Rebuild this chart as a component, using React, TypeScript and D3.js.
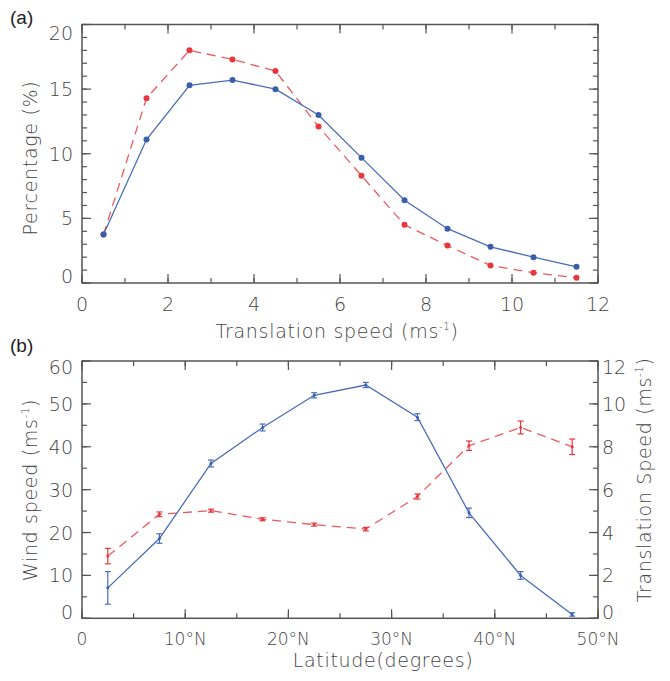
import React from "react";
import * as d3 from "d3";

// ---- Panel (a) data ----
const speedBins = [0.5, 1.5, 2.5, 3.5, 4.5, 5.5, 6.5, 7.5, 8.5, 9.5, 10.5, 11.5];
const pctBlue = [3.75, 11.1, 15.3, 15.7, 15.0, 13.0, 9.7, 6.4, 4.2, 2.8, 2.0, 1.25];
const pctRed = [3.75, 14.3, 18.0, 17.3, 16.4, 12.1, 8.3, 4.5, 2.9, 1.35, 0.8, 0.4];
const aXTicks = [0, 2, 4, 6, 8, 10, 12];
const aYTicks = [0, 5, 10, 15, 20];

// ---- Panel (b) data ----
const latBins = [2.5, 7.5, 12.5, 17.5, 22.5, 27.5, 32.5, 37.5, 42.5, 47.5];
const windSpeed = [7.1, 18.6, 36.1, 44.5, 52.0, 54.4, 46.9, 24.6, 10.0, 0.9];
const windErr = [3.8, 1.1, 0.8, 0.8, 0.6, 0.6, 0.8, 1.1, 0.9, 0.4];
const transSpeed = [2.9, 4.85, 5.02, 4.62, 4.37, 4.16, 5.68, 8.05, 8.9, 8.0];
const transErr = [0.36, 0.11, 0.07, 0.07, 0.07, 0.08, 0.12, 0.22, 0.3, 0.36];
const bXTicks = [0, 10, 20, 30, 40, 50];
const bXLabels = ["0", "10°N", "20°N", "30°N", "40°N", "50°N"];
const bYLeftTicks = [0, 10, 20, 30, 40, 50, 60];
const bYRightTicks = [0, 2, 4, 6, 8, 10, 12];

const AXIS = "#555555";
const TEXT = "#444444";
const BLUE = "#3a5eaa";
const BLUE_LINE = "#4a6db8";
const RED = "#e8363c";
const RED_LINE = "#ec5a60";
const FONT = "'DejaVu Sans', sans-serif";
const WEIGHT = 200;

const L = 82;
const R = 598;

function Ticks({ pos, orient, len, edge }: { pos: number[]; orient: string; len: number; edge: number }) {
  return (
    <g stroke={AXIS} strokeWidth={1.2}>
      {pos.map((p, i) => {
        if (orient === "bottom") return <line key={i} x1={p} x2={p} y1={edge} y2={edge - len} />;
        if (orient === "top") return <line key={i} x1={p} x2={p} y1={edge} y2={edge + len} />;
        if (orient === "left") return <line key={i} x1={edge} x2={edge + len} y1={p} y2={p} />;
        return <line key={i} x1={edge} x2={edge - len} y1={p} y2={p} />;
      })}
    </g>
  );
}

export default function App() {
  // Panel (a) scales
  const aTop = 24.5;
  const aBot = 283;
  const ax = d3.scaleLinear().domain([0, 12]).range([L, R]);
  const ay = d3.scaleLinear().domain([0, 20]).range([aBot, aTop]);
  const aLine = d3.line<number>().x((_, i) => ax(speedBins[i])).y((d) => ay(d));

  // Panel (b) scales
  const bTop = 361;
  const bBot = 618.3;
  const bx = d3.scaleLinear().domain([0, 50]).range([L, R]);
  const byL = d3.scaleLinear().domain([0, 60]).range([bBot, bTop]);
  const byR = d3.scaleLinear().domain([0, 12]).range([bBot, bTop]);
  const windLine = d3.line<number>().x((_, i) => bx(latBins[i])).y((d) => byL(d));
  const transLine = d3.line<number>().x((_, i) => bx(latBins[i])).y((d) => byR(d));

  const aXMinor = d3.range(0, 13, 1);
  const aYMinor = d3.range(0, 21, 1);
  const bXMinor = d3.range(0, 51, 5);
  const bYMinor = d3.range(0, 61, 5);

  const tickFont = 19;
  const titleFont = 19;
  const ls = 0.7;

  return (
    <svg
      width={670}
      height={681}
      style={{ position: "absolute", left: 0, top: 0, background: "#fff" }}
      fontFamily={FONT}
      fontWeight={WEIGHT}
    >
      <rect x={0} y={0} width={670} height={681} fill="#fff" />

      {/* ===== Panel (a) ===== */}
      <text x={10} y={24} fontFamily="'Liberation Sans', Arial, sans-serif" fontWeight={400} fontSize={19} fill="#222">(a)</text>
      <rect x={L} y={aTop} width={R - L} height={aBot - aTop} fill="none" stroke={AXIS} strokeWidth={1.5} />
      <Ticks pos={aXMinor.map(ax)} orient="bottom" len={5} edge={aBot} />
      <Ticks pos={aXMinor.map(ax)} orient="top" len={5} edge={aTop} />
      <Ticks pos={aXTicks.map(ax)} orient="bottom" len={9} edge={aBot} />
      <Ticks pos={aXTicks.map(ax)} orient="top" len={9} edge={aTop} />
      <Ticks pos={aYMinor.map(ay)} orient="left" len={5} edge={L} />
      <Ticks pos={aYMinor.map(ay)} orient="right" len={5} edge={R} />
      <Ticks pos={aYTicks.map(ay)} orient="left" len={9} edge={L} />
      <Ticks pos={aYTicks.map(ay)} orient="right" len={9} edge={R} />
      {aXTicks.map((t) => (
        <text key={t} x={ax(t)} y={311} textAnchor="middle" fontSize={tickFont} fill={TEXT}>{t}</text>
      ))}
      {aYTicks.map((t) => (
        <text key={t} x={73} y={Math.min(Math.max(ay(t), 33), 276) + 7} textAnchor="end" fontSize={tickFont} fill={TEXT}>{t}</text>
      ))}
      <text x={337} y={338} textAnchor="middle" fontSize={titleFont} letterSpacing={ls} fill={TEXT}>
        Translation speed (ms<tspan dy={-8} fontSize={10}>-1</tspan><tspan dy={8}>)</tspan>
      </text>
      <text transform={`translate(37,158) rotate(-90)`} textAnchor="middle" fontSize={titleFont} letterSpacing={ls} fill={TEXT}>Percentage (%)</text>

      <path d={aLine(pctRed) || ""} fill="none" stroke={RED_LINE} strokeWidth={1.3} strokeDasharray="9,6" />
      <path d={aLine(pctBlue) || ""} fill="none" stroke={BLUE_LINE} strokeWidth={1.3} />
      {pctRed.map((v, i) => (
        <circle key={"r" + i} cx={ax(speedBins[i])} cy={ay(v)} r={3} fill={RED} />
      ))}
      {pctBlue.map((v, i) => (
        <circle key={"b" + i} cx={ax(speedBins[i])} cy={ay(v)} r={3} fill={BLUE} />
      ))}

      {/* ===== Panel (b) ===== */}
      <text x={10} y={352} fontFamily="'Liberation Sans', Arial, sans-serif" fontWeight={400} fontSize={19} fill="#222">(b)</text>
      <rect x={L} y={bTop} width={R - L} height={bBot - bTop} fill="none" stroke={AXIS} strokeWidth={1.5} />
      <Ticks pos={bXMinor.map(bx)} orient="bottom" len={5} edge={bBot} />
      <Ticks pos={bXMinor.map(bx)} orient="top" len={5} edge={bTop} />
      <Ticks pos={bXTicks.map(bx)} orient="bottom" len={9} edge={bBot} />
      <Ticks pos={bXTicks.map(bx)} orient="top" len={9} edge={bTop} />
      <Ticks pos={bYMinor.map(byL)} orient="left" len={5} edge={L} />
      <Ticks pos={bYLeftTicks.map(byL)} orient="left" len={9} edge={L} />
      <Ticks pos={d3.range(0, 13, 1).map(byR)} orient="right" len={5} edge={R} />
      <Ticks pos={bYRightTicks.map(byR)} orient="right" len={9} edge={R} />
      {bXTicks.map((t, i) => (
        <text key={t} x={bx(t)} y={645} textAnchor="middle" fontSize={17} fill={TEXT}>{bXLabels[i]}</text>
      ))}
      {bYLeftTicks.map((t) => (
        <text key={t} x={73} y={Math.min(Math.max(byL(t), 367), 612) + 7} textAnchor="end" fontSize={tickFont} fill={TEXT}>{t}</text>
      ))}
      <g>
        {bYRightTicks.map((t) => (
          <text key={t} x={602} y={Math.min(Math.max(byR(t), 367), 612) + 7} textAnchor="start" fontSize={tickFont} fill={TEXT}>{t}</text>
        ))}
      </g>
      <text x={383} y={667} textAnchor="middle" fontSize={titleFont} letterSpacing={ls} fill={TEXT}>Latitude(degrees)</text>
      <text transform={`translate(37,490) rotate(-90)`} textAnchor="middle" fontSize={titleFont} letterSpacing={ls} fill={TEXT}>
        Wind speed (ms<tspan dy={-8} fontSize={10}>-1</tspan><tspan dy={8}>)</tspan>
      </text>
      <text transform={`translate(651,480) rotate(-90)`} textAnchor="middle" fontSize={titleFont} letterSpacing={ls} fill={TEXT}>
        Translation Speed (ms<tspan dy={-8} fontSize={10}>-1</tspan><tspan dy={8}>)</tspan>
      </text>

      <path d={transLine(transSpeed) || ""} fill="none" stroke={RED_LINE} strokeWidth={1.3} strokeDasharray="9,6" />
      <path d={windLine(windSpeed) || ""} fill="none" stroke={BLUE_LINE} strokeWidth={1.3} />
      {transSpeed.map((v, i) => {
        const x = bx(latBins[i]);
        const y1 = byR(v - transErr[i]);
        const y2 = byR(v + transErr[i]);
        return (
          <g key={"te" + i} stroke={RED} strokeWidth={1.2}>
            <line x1={x} x2={x} y1={y1} y2={y2} />
            <line x1={x - 3} x2={x + 3} y1={y1} y2={y1} />
            <line x1={x - 3} x2={x + 3} y1={y2} y2={y2} />
            <circle cx={x} cy={byR(v)} r={1.5} fill={RED} stroke="none" />
          </g>
        );
      })}
      {windSpeed.map((v, i) => {
        const x = bx(latBins[i]);
        const y1 = byL(v - windErr[i]);
        const y2 = byL(v + windErr[i]);
        return (
          <g key={"we" + i} stroke={BLUE_LINE} strokeWidth={1.2}>
            <line x1={x} x2={x} y1={y1} y2={y2} />
            <line x1={x - 3} x2={x + 3} y1={y1} y2={y1} />
            <line x1={x - 3} x2={x + 3} y1={y2} y2={y2} />
            <circle cx={x} cy={byL(v)} r={1.5} fill={BLUE} stroke="none" />
          </g>
        );
      })}
    </svg>
  );
}
